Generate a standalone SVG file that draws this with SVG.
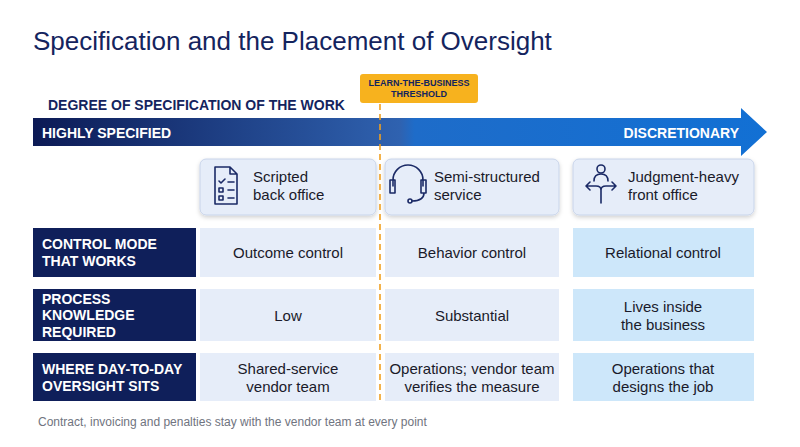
<svg xmlns="http://www.w3.org/2000/svg" width="800" height="447" viewBox="0 0 800 447">
<defs>
<linearGradient id="ag" x1="0" x2="1" y1="0" y2="0">
<stop offset="0" stop-color="#0c1a55"/><stop offset="0.5" stop-color="#2f62b0"/><stop offset="0.52" stop-color="#1e6cc9"/><stop offset="1" stop-color="#1270d4"/>
</linearGradient>
<filter id="sh" x="-10%" y="-10%" width="120%" height="130%"><feDropShadow dx="0" dy="2" stdDeviation="2" flood-color="#000" flood-opacity="0.18"/></filter>
<style>
text{font-family:"Liberation Sans",Arial,sans-serif}
.lab{fill:#0f1f5a}
.lt{fill:#fff;font-weight:bold;font-size:14px}
.c{fill:#e6edf9}
.c3{fill:#cde7fa}
.ct{fill:#1a1a2a;font-size:15px;text-anchor:middle}
.ic{fill:none;stroke:#1b2a66;stroke-width:1.6;stroke-linecap:round;stroke-linejoin:round}
.card{fill:#e6edf9;stroke:#c8d4ea;stroke-width:1}
</style>
</defs>
<rect width="800" height="447" fill="#fff"/>
<text x="33" y="50" font-size="26" fill="#14245e">Specification and the Placement of Oversight</text>
<text x="48" y="110" font-size="14" font-weight="bold" fill="#14245e">DEGREE OF SPECIFICATION OF THE WORK</text>
<g id="arrow">
<path d="M33 118 H741 V108 L767 132 L741 156 V146 H33 Z" fill="url(#ag)"/>
<text x="42" y="138" class="lt">HIGHLY SPECIFIED</text>
<text x="739" y="138" class="lt" text-anchor="end">DISCRETIONARY</text>
</g>
<g id="cards">
<g id="card1"><rect x="200" y="159" width="176" height="56" rx="6" class="card" filter="url(#sh)"/>
<path class="ic" d="M215 167 H230 L237 174 V204 H215 Z M230 167 V174 H237"/>
<path class="ic" d="M219 181 L221 183 L225 179 M228 182 H234 M219 188 h4 v4 h-4 z M228 190 H234 M219 196 h4 v4 h-4 z M228 198 H234"/>
<text x="253" y="182" font-size="15" fill="#1a1a2a">Scripted</text><text x="253" y="200" font-size="15" fill="#1a1a2a">back office</text></g>
<g id="card2"><rect x="385" y="159" width="174" height="56" rx="6" class="card" filter="url(#sh)"/>
<path class="ic" d="M393 186 V180 A15 15 0 0 1 423 180 V186 M390 180 h5 v13 h-5 z M421 180 h5 v13 h-5 z M424 193 Q424 201 412 201"/>
<circle cx="410" cy="201" r="2" class="ic"/>
<text x="434" y="182" font-size="15" fill="#1a1a2a">Semi-structured</text><text x="434" y="200" font-size="15" fill="#1a1a2a">service</text></g>
<g id="card3"><rect x="573" y="159" width="181" height="56" rx="6" class="card" filter="url(#sh)"/>
<circle cx="601" cy="169" r="4" class="ic"/>
<path class="ic" d="M594 181 Q594 174 601 174 Q608 174 608 181 M601 203 V190 Q601 186 596 186 H587 M590 182 L586 186 L590 190 M601 190 Q601 186 606 186 H615 M612 182 L616 186 L612 190"/>
<text x="628" y="182" font-size="15" fill="#1a1a2a">Judgment-heavy</text><text x="628" y="200" font-size="15" fill="#1a1a2a">front office</text></g>
</g>
<g id="row1">
<rect x="33" y="228" width="163" height="49" fill="#0f1f5a"/>
<text x="42" y="249" class="lt">CONTROL MODE</text><text x="42" y="266" class="lt">THAT WORKS</text>
<rect x="200" y="228" width="176" height="49" class="c"/><text x="288" y="258" class="ct">Outcome control</text>
<rect x="385" y="228" width="174" height="49" class="c"/><text x="472" y="258" class="ct">Behavior control</text>
<rect x="573" y="228" width="181" height="49" class="c3"/><text x="663" y="258" class="ct">Relational control</text>
</g>
<g id="row2">
<rect x="33" y="289" width="163" height="52" fill="#0f1f5a"/>
<text x="42" y="304" class="lt">PROCESS</text><text x="42" y="320" class="lt">KNOWLEDGE</text><text x="42" y="337" class="lt">REQUIRED</text>
<rect x="200" y="289" width="176" height="52" class="c"/><text x="288" y="321" class="ct">Low</text>
<rect x="385" y="289" width="174" height="52" class="c"/><text x="472" y="321" class="ct">Substantial</text>
<rect x="573" y="289" width="181" height="52" class="c3"/><text x="663" y="312" class="ct">Lives inside</text><text x="663" y="330" class="ct">the business</text>
</g>
<g id="row3">
<rect x="33" y="353" width="163" height="48" fill="#0f1f5a"/>
<text x="42" y="374" class="lt">WHERE DAY-TO-DAY</text><text x="42" y="391" class="lt">OVERSIGHT SITS</text>
<rect x="200" y="353" width="176" height="48" class="c"/><text x="288" y="374" class="ct">Shared-service</text><text x="288" y="392" class="ct">vendor team</text>
<rect x="385" y="353" width="174" height="48" class="c"/><text x="472" y="374" class="ct">Operations; vendor team</text><text x="472" y="392" class="ct">verifies the measure</text>
<rect x="573" y="353" width="181" height="48" class="c3"/><text x="663" y="374" class="ct">Operations that</text><text x="663" y="392" class="ct">designs the job</text>
</g>
<g id="connectors">
<line x1="380" y1="104" x2="380" y2="400" stroke="#f0a020" stroke-width="1.6" stroke-dasharray="6,4"/>
</g>
<g id="threshold">
<rect x="360" y="74" width="118" height="29" rx="3" fill="#f7b21e"/>
<text x="419" y="86" font-size="9" font-weight="bold" fill="#14245e" text-anchor="middle">LEARN-THE-BUSINESS</text>
<text x="419" y="97" font-size="9" font-weight="bold" fill="#14245e" text-anchor="middle">THRESHOLD</text>
</g>
<text x="38" y="426" font-size="12" fill="#707480">Contract, invoicing and penalties stay with the vendor team at every point</text>
</svg>
